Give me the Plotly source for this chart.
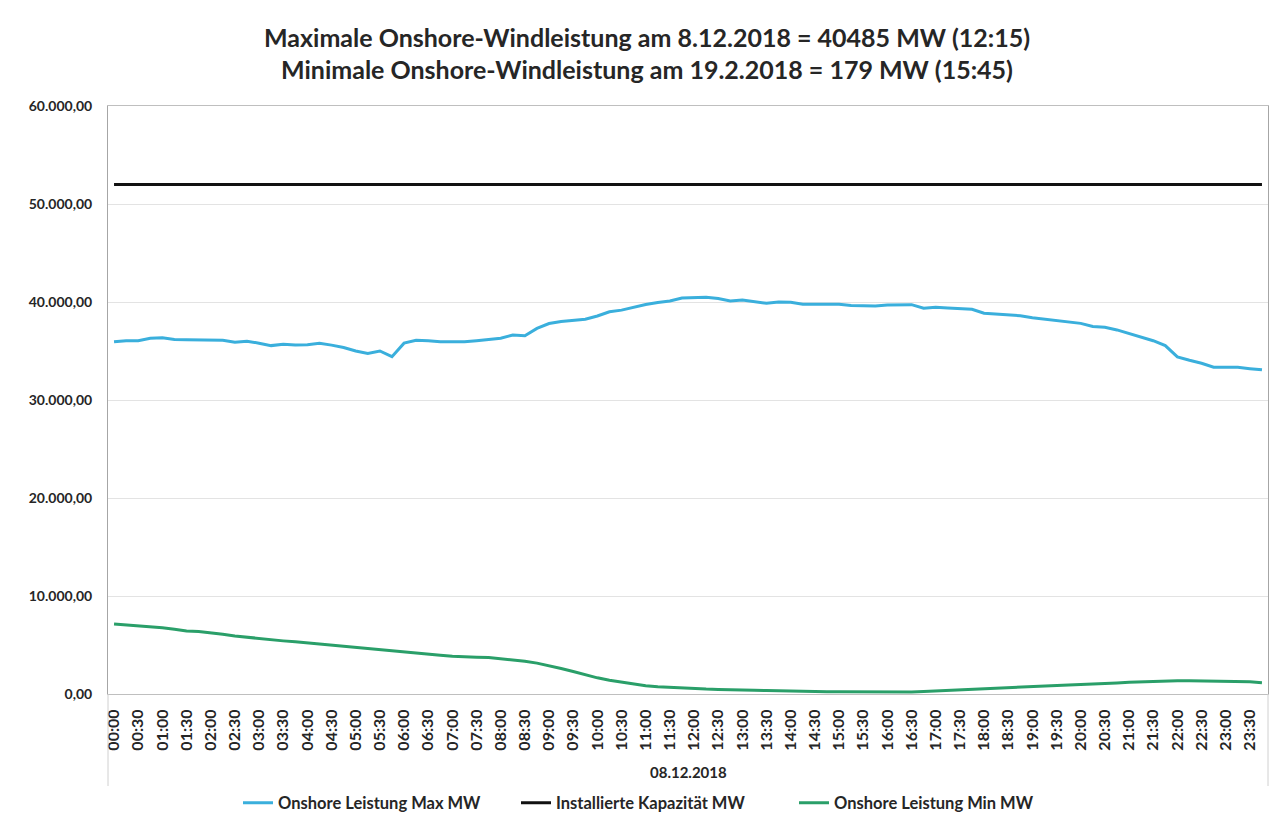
import plotly.graph_objects as go

times = [
    "00:00", "00:15", "00:30", "00:45", "01:00", "01:15", "01:30", "01:45",
    "02:00", "02:15", "02:30", "02:45", "03:00", "03:15", "03:30", "03:45",
    "04:00", "04:15", "04:30", "04:45", "05:00", "05:15", "05:30", "05:45",
    "06:00", "06:15", "06:30", "06:45", "07:00", "07:15", "07:30", "07:45",
    "08:00", "08:15", "08:30", "08:45", "09:00", "09:15", "09:30", "09:45",
    "10:00", "10:15", "10:30", "10:45", "11:00", "11:15", "11:30", "11:45",
    "12:00", "12:15", "12:30", "12:45", "13:00", "13:15", "13:30", "13:45",
    "14:00", "14:15", "14:30", "14:45", "15:00", "15:15", "15:30", "15:45",
    "16:00", "16:15", "16:30", "16:45", "17:00", "17:15", "17:30", "17:45",
    "18:00", "18:15", "18:30", "18:45", "19:00", "19:15", "19:30", "19:45",
    "20:00", "20:15", "20:30", "20:45", "21:00", "21:15", "21:30", "21:45",
    "22:00", "22:15", "22:30", "22:45", "23:00", "23:15", "23:30", "23:45",
]
tick_labels = times[::2]

onshore_max = [
    35950, 36050, 36050, 36300, 36350, 36180, 36160, 36160, 36160, 36100,
    35900, 36000, 35800, 35550, 35700, 35600, 35650, 35780, 35600, 35350,
    35000, 34760, 35000, 34420, 35800, 36100, 36050, 35950, 35950, 35950,
    36050, 36150, 36300, 36630, 36560, 37310, 37800, 38000, 38150, 38250,
    38570, 39000, 39170, 39450, 39750, 39950, 40100, 40400, 40450, 40485,
    40350, 40100, 40200, 40000, 39870, 40000, 39980, 39780, 39760, 39760,
    39760, 39650, 39590, 39590, 39700, 39730, 39730, 39360, 39460, 39400,
    39330, 39250, 38850, 38780, 38700, 38600, 38400, 38250, 38120, 37950,
    37820, 37500, 37420, 37150, 36780, 36450, 36050, 35550, 34400, 34050,
    33750, 33350, 33330, 33330, 33200, 33080,
]

installed = [
    52000, 52000, 52000, 52000, 52000, 52000, 52000, 52000, 52000, 52000,
    52000, 52000, 52000, 52000, 52000, 52000, 52000, 52000, 52000, 52000,
    52000, 52000, 52000, 52000, 52000, 52000, 52000, 52000, 52000, 52000,
    52000, 52000, 52000, 52000, 52000, 52000, 52000, 52000, 52000, 52000,
    52000, 52000, 52000, 52000, 52000, 52000, 52000, 52000, 52000, 52000,
    52000, 52000, 52000, 52000, 52000, 52000, 52000, 52000, 52000, 52000,
    52000, 52000, 52000, 52000, 52000, 52000, 52000, 52000, 52000, 52000,
    52000, 52000, 52000, 52000, 52000, 52000, 52000, 52000, 52000, 52000,
    52000, 52000, 52000, 52000, 52000, 52000, 52000, 52000, 52000, 52000,
    52000, 52000, 52000, 52000, 52000, 52000,
]

onshore_min = [
    7150, 7050, 6950, 6880, 6750, 6600, 6430, 6380, 6270, 6100,
    5920, 5780, 5650, 5550, 5420, 5320, 5200, 5080, 4980, 4880,
    4750, 4620, 4520, 4430, 4300, 4150, 4050, 3950, 3850, 3780,
    3750, 3720, 3620, 3500, 3350, 3150, 2900, 2600, 2300, 1950,
    1650, 1400, 1200, 1000, 850, 750, 680, 600, 550, 500,
    470, 420, 400, 380, 360, 350, 330, 300, 270, 240,
    220, 210, 200, 179, 190, 200, 210, 260, 320, 380,
    440, 500, 540, 580, 650, 720, 780, 830, 880, 920,
    960, 1000, 1050, 1120, 1200, 1250, 1280, 1320, 1350, 1360,
    1350, 1320, 1300, 1290, 1250, 1150,
]

y_ticks = [0, 10000, 20000, 30000, 40000, 50000, 60000]

title_lines = [
    "Maximale Onshore-Windleistung am 8.12.2018 = 40485 MW (12:15)",
    "Minimale Onshore-Windleistung am 19.2.2018 = 179 MW (15:45)",
]
date_label = "08.12.2018"

BLUE = "#3AAFDC"
BLACK = "#111111"
GREEN = "#2A9F69"
FONT = "Lato"
TXT = "#262626"

W, H = 1282, 826
L, T, R, B = 108, 106, 14, 132
PW, PH = W - L - R, H - T - B

fig = go.Figure()
fig.add_trace(go.Scatter(x=times, y=onshore_max, mode="lines",
                         name="Onshore Leistung Max MW",
                         line=dict(color=BLUE, width=3)))
fig.add_trace(go.Scatter(x=times, y=installed, mode="lines",
                         name="Installierte Kapazität MW",
                         line=dict(color=BLACK, width=3)))
fig.add_trace(go.Scatter(x=times, y=onshore_min, mode="lines",
                         name="Onshore Leistung Min MW",
                         line=dict(color=GREEN, width=3)))

fig.update_layout(
    width=W, height=H,
    margin=dict(l=L, r=R, t=T, b=B, autoexpand=False),
    paper_bgcolor="white", plot_bgcolor="white",
    separators=",.",
    font=dict(family=FONT, color=TXT),
    showlegend=True,
    legend=dict(orientation="h", x=(655 - L) / PW, xanchor="center",
                y=-(803 - (T + PH)) / PH, yanchor="middle",
                entrywidth=233, entrywidthmode="pixels",
                font=dict(size=16.5, family=FONT, weight="bold", color=TXT)),
)

fig.update_xaxes(
    type="category", categoryorder="array", categoryarray=times,
    tickmode="array", tickvals=tick_labels, ticktext=tick_labels,
    tickangle=-90, tickfont=dict(size=16, family=FONT, weight="bold", color=TXT),
    showgrid=False, showline=True, linecolor="#BFBFBF", linewidth=1, mirror=True,
    ticks="", range=[-0.5, len(times) - 0.5], ticklabelstandoff=8,
    automargin=False,
)
fig.update_yaxes(
    range=[0, 60000], tickmode="array", tickvals=y_ticks, tickformat=",.2f",
    tickfont=dict(size=14, family=FONT, weight="bold", color=TXT),
    showgrid=True, gridcolor="#E3E3E3", gridwidth=1,
    showline=True, linecolor="#A6A6A6", linewidth=1, mirror=True,
    zeroline=False, ticks="", ticklabelstandoff=12, automargin=False,
)

for line, ypx in zip(title_lines, [37, 69]):
    fig.add_annotation(text="<b>" + line + "</b>", xref="paper", yref="paper",
                       x=(647 - L) / PW, y=1 + (T - ypx) / PH,
                       xanchor="center", yanchor="middle", showarrow=False,
                       font=dict(size=25, family=FONT, color=TXT))

fig.add_annotation(text="<b>" + date_label + "</b>", xref="paper", yref="paper",
                   x=0.5, y=-(772 - (T + PH)) / PH, xanchor="center", yanchor="middle",
                   showarrow=False, font=dict(size=15, family=FONT, color=TXT))

# category group divider lines below the axis (Excel multi-level axis)
for xv in (0, 1):
    fig.add_shape(type="line", xref="paper", yref="paper", x0=xv, x1=xv, y0=0,
                  y1=-(786 - (T + PH)) / PH, line=dict(color="#D0D0D0", width=1))

fig.write_html(
    "out.html",
    config={"displayModeBar": False},
    post_script="document.body.style.margin='0';document.body.style.overflow='hidden';",
)
